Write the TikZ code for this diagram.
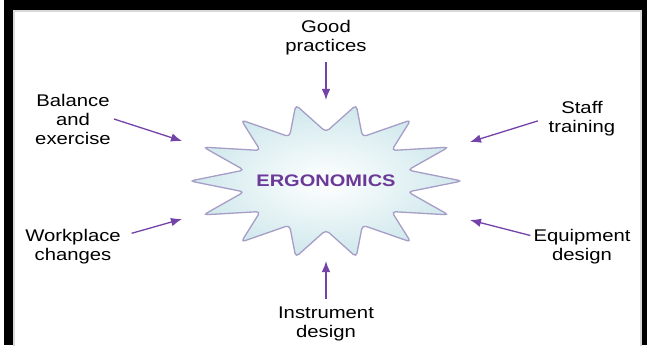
\documentclass[tikz,border=0pt]{standalone}
\usepackage{fontspec}
\newfontfamily\lblfont[FakeStretch=1.2]{Liberation Sans}
\usepackage{xcolor}
\usepackage{tikz}
\usetikzlibrary{arrows.meta}

\definecolor{ergopurple}{HTML}{6B3A99}
\definecolor{arrowpurple}{HTML}{7443AA}
\definecolor{staredge}{HTML}{A69EC6}
\definecolor{starfill}{HTML}{CFE8EC}

\begin{document}
\begin{tikzpicture}[x=1pt,y=1pt,>=Latex]
  \tikzstyle{topic}=[align=center,inner sep=3pt,text=black,font=\lblfont\fontsize{16.9}{19}\selectfont]
  \tikzstyle{arr}=[line width=1.3pt,arrowpurple,-{Latex[length=11pt,width=8.5pt]}]
  % frame
  \useasboundingbox (-326,-164) rectangle (321,181);
  \fill[black] (-322,-164) rectangle (321,181);
  \fill[white] (-313,-164) rectangle (316,171);
  \draw[black!15,line width=2pt] (-312,-165) -- (-312,170) -- (315,170) -- (315,-165);
  % star
  \shade[inner color=white,outer color=starfill,draw=staredge,line width=1.3pt,rounded corners=4pt]
    (0:136 and 78) \foreach \k in {1,...,13} {-- ({(\k-0.5)*360/14}:84 and 49) -- ({\k*360/14}:136 and 78)}
    -- ({13.5*360/14}:84 and 49) -- cycle;
  \node[text=ergopurple,font=\lblfont\bfseries\fontsize{16.7}{19}\selectfont] (ergo) at (0,0) {ERGONOMICS};
  % topics
  \node[topic] (good) at (0,143) {Good\\practices};
  \node[topic] (bal) at (-253,62) {Balance\\and\\exercise};
  \node[topic] (staff) at (256,62.5) {Staff\\training};
  \node[topic] (work) at (-253,-65.5) {Workplace\\changes};
  \node[topic] (equip) at (256,-65.5) {Equipment\\design};
  \node[topic] (instr) at (0,-143) {Instrument\\design};
  % arrow tips
  \coordinate (tgood) at (0,81);
  \coordinate (tbal) at (-144,40);
  \coordinate (tstaff) at (144,39);
  \coordinate (twork) at (-144,-38);
  \coordinate (tequip) at (144,-39);
  \coordinate (tinstr) at (0,-80);
  \draw[arr,shorten <=3pt] (good.south) -- (tgood);
  \draw[arr] (bal.east) -- (tbal);
  \draw[arr,shorten <=8pt] (staff.west) -- (tstaff);
  \draw[arr,shorten <=8pt] ([yshift=11pt]work.east) -- (twork);
  \draw[arr] ([yshift=11pt]equip.west) -- (tequip);
  \draw[arr,shorten <=5pt] (instr.north) -- (tinstr);
\end{tikzpicture}
\end{document}
